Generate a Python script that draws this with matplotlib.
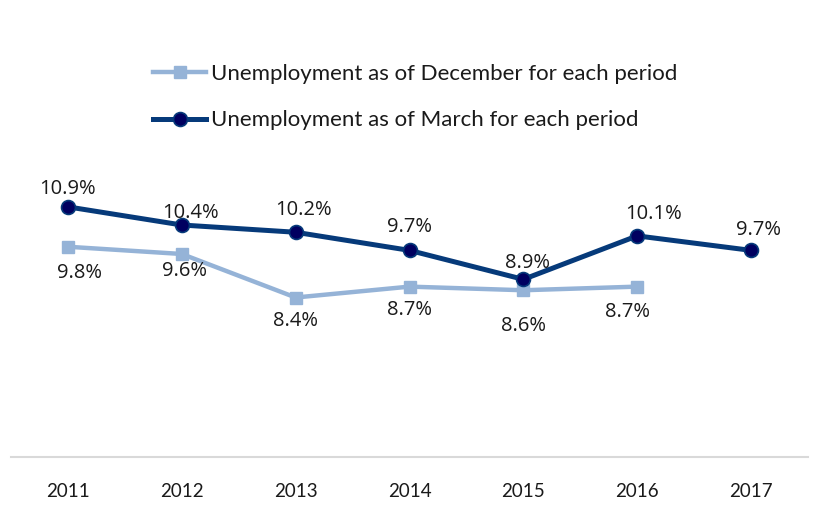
import matplotlib.pyplot as plt

plt.rcParams['font.family'] = ['Lato', 'DejaVu Sans']

years = ['2011', '2012', '2013', '2014', '2015', '2016', '2017']
december = [9.8, 9.6, 8.4, 8.7, 8.6, 8.7]
march = [10.9, 10.4, 10.2, 9.7, 8.9, 10.1, 9.7]

# label offsets in points (x, y)
dec_offsets = [(8, -19), (2, -12), (0, -17), (0, -17), (0, -26), (-7, -18)]
mar_offsets = [(0, 13), (6, 9), (6, 16), (0, 17), (3, 12), (12, 16), (5, 15)]

label_font = ['Open Sans', 'DejaVu Sans']

fig = plt.figure(figsize=(8.18, 5.05), dpi=100)
ax = fig.add_axes([11 / 818, 48 / 505, 797 / 818, 290 / 505])

x = list(range(len(years)))
ax.plot(x[:len(december)], december, color='#95b3d7', lw=3.2, marker='s', ms=9,
        mec='#95b3d7', mfc='#95b3d7', label='Unemployment as of December for each period')
ax.plot(x, march, color='#063a7a', lw=3.6, marker='o', ms=10,
        mec='#063a7a', mfc='#000060', mew=1.2, label='Unemployment as of March for each period')

for i, v in enumerate(december):
    ax.annotate(f'{v:.1f}%', (i, v), xytext=dec_offsets[i], textcoords='offset points',
                ha='center', va='center', fontsize=14.5, color='#1a1a1a', family=label_font)
for i, v in enumerate(march):
    ax.annotate(f'{v:.1f}%', (i, v), xytext=mar_offsets[i], textcoords='offset points',
                ha='center', va='center', fontsize=14.5, color='#1a1a1a', family=label_font)

ax.set_xlim(-0.5, 6.5)
ax.set_ylim(4, 12)
ax.set_xticks(x)
ax.set_xticklabels(years, fontsize=13.5, color='#1a1a1a')
ax.tick_params(axis='x', length=0, pad=19)
ax.set_yticks([])
for s in ['top', 'right', 'left']:
    ax.spines[s].set_visible(False)
ax.spines['bottom'].set_color('#d9d9d9')
ax.spines['bottom'].set_linewidth(1.5)

fig.legend(loc='center', bbox_to_anchor=(415 / 818, 1 - 97 / 505), frameon=False,
           fontsize=16, handlelength=2.4, handletextpad=0.2, labelspacing=1.2,
           labelcolor='#1a1a1a')

fig.savefig('out.png', dpi=100)
